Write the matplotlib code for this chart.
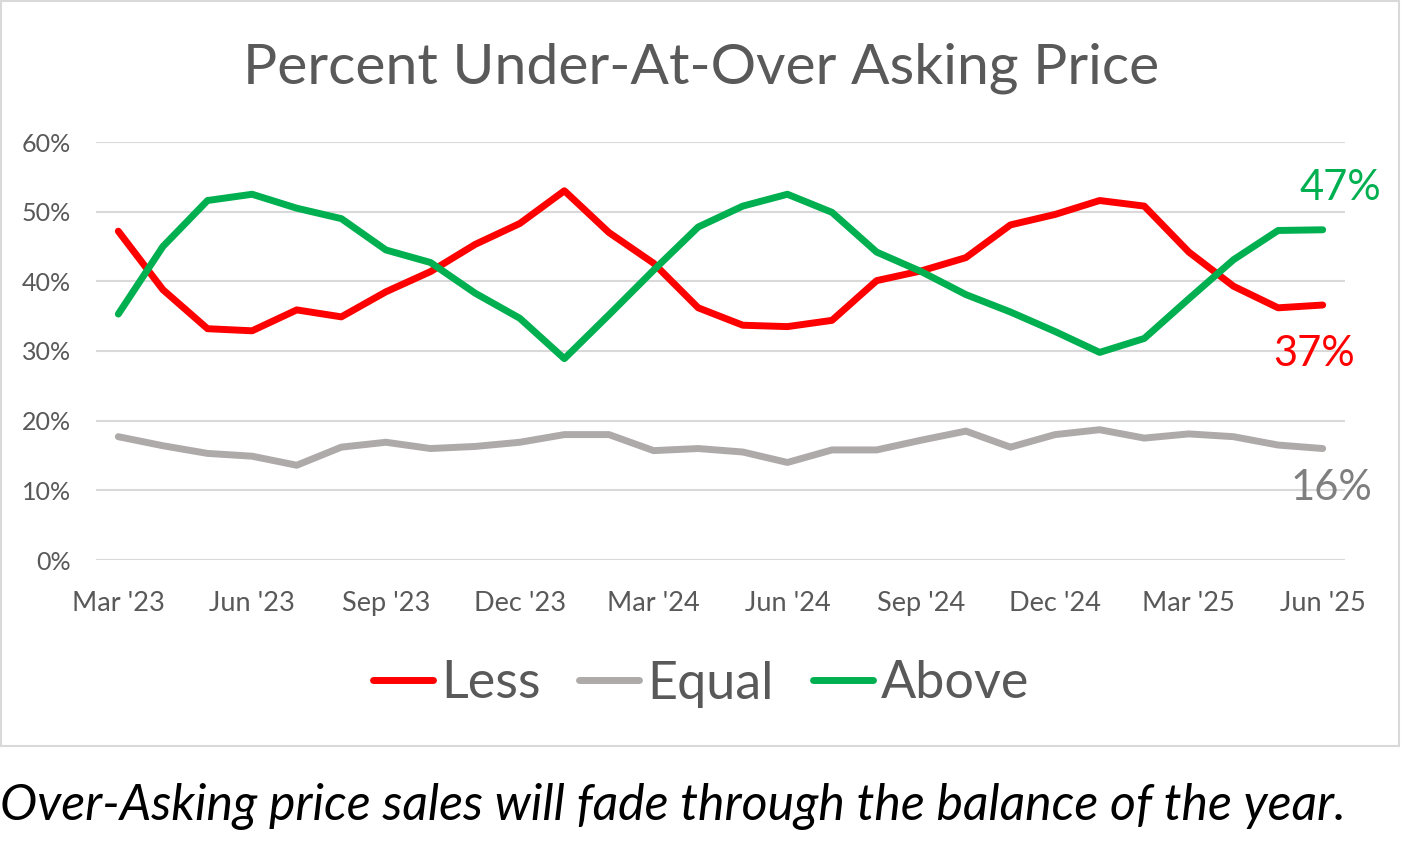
import numpy as np
import matplotlib
matplotlib.use('Agg')
import matplotlib.pyplot as plt
from matplotlib.patches import Rectangle

plt.rcParams['font.family'] = ['Lato', 'DejaVu Sans']

# monthly, Mar '23 .. Jun '25
tick_labels = ["Mar '23", "Jun '23", "Sep '23", "Dec '23", "Mar '24", "Jun '24",
               "Sep '24", "Dec '24", "Mar '25", "Jun '25"]

less = [47.2, 38.8, 33.2, 32.9, 35.9, 34.9, 38.5, 41.4, 45.3, 48.3,
        53.0, 47.0, 42.6, 36.2, 33.7, 33.5, 34.4, 40.1, 41.5, 43.4,
        48.1, 49.6, 51.6, 50.8, 44.2, 39.3, 36.2, 36.6]
equal = [17.7, 16.4, 15.3, 14.9, 13.6, 16.2, 16.9, 16.0, 16.3, 16.9,
         18.0, 18.0, 15.7, 16.0, 15.5, 14.0, 15.8, 15.8, 17.2, 18.5,
         16.2, 18.0, 18.7, 17.5, 18.1, 17.7, 16.5, 16.0]
above = [35.3, 45.0, 51.6, 52.5, 50.5, 49.0, 44.5, 42.7, 38.3, 34.7,
         28.9, 35.2, 41.6, 47.8, 50.8, 52.5, 49.9, 44.2, 41.4, 38.1,
         35.6, 32.8, 29.8, 31.8, 37.5, 43.1, 47.3, 47.4]

red = '#FF0000'
gray = '#AEAAAA'
green = '#00B050'
txt = '#595959'

x = np.arange(len(less))

fig = plt.figure(figsize=(14.02, 8.42), dpi=100)
fig.patches.append(Rectangle((0.001, 1 - 746 / 842), 1398 / 1402, 745 / 842,
                             transform=fig.transFigure, fill=False,
                             edgecolor='#D9D9D9', linewidth=1.5))

ax = fig.add_axes([96 / 1402, 1 - 560 / 842, (1345 - 96) / 1402, (560 - 142) / 842])
l1, = ax.plot(x, less, color=red, lw=5, solid_capstyle='round', solid_joinstyle='round', label='Less')
l2, = ax.plot(x, equal, color=gray, lw=5, solid_capstyle='round', solid_joinstyle='round', label='Equal')
l3, = ax.plot(x, above, color=green, lw=5, solid_capstyle='round', solid_joinstyle='round', label='Above')

ax.set_xlim(-0.5, len(less) - 0.5)
ax.set_ylim(0, 60)
ax.set_yticks(np.arange(0, 61, 10))
ax.set_yticklabels([f'{v}%' for v in range(0, 61, 10)])
ax.set_xticks(x[::3])
ax.set_xticklabels(tick_labels)
ax.grid(axis='y', color='#D9D9D9', lw=1.5)
ax.set_axisbelow(True)
for s in ax.spines.values():
    s.set_visible(False)
ax.tick_params(length=0, colors=txt)
ax.tick_params(axis='y', labelsize=18, pad=18)
ax.tick_params(axis='x', labelsize=19.5, pad=22)

ax.text(x[-1] + 0.4, above[-1] + 6.0, f'{above[-1]:.0f}%', color=green, fontsize=30,
        ha='center', va='center')
ax.text(x[-1] - 0.2, less[-1] - 7.0, f'{less[-1]:.0f}%', color=red, fontsize=30,
        ha='center', va='center')
ax.text(x[-1] + 0.2, equal[-1] - 5.6, f'{equal[-1]:.0f}%', color='#7F7F7F', fontsize=30,
        ha='center', va='center')

fig.text(0.5, 1 - 68 / 842, 'Percent Under-At-Over Asking Price', ha='center', va='center',
         fontsize=41, color=txt)

fig.legend(handles=[l1, l2, l3], loc='center', bbox_to_anchor=(0.5, 1 - 684 / 842),
           ncol=3, frameon=False, fontsize=37.5, labelcolor=txt, handlelength=1.15,
           handletextpad=0.15, columnspacing=0.75)

fig.text(0.0, 1 - 806 / 842, 'Over-Asking price sales will fade through the balance of the year.',
         ha='left', va='center', fontsize=36, style='italic', color='black')

fig.savefig('out.png', dpi=100)
